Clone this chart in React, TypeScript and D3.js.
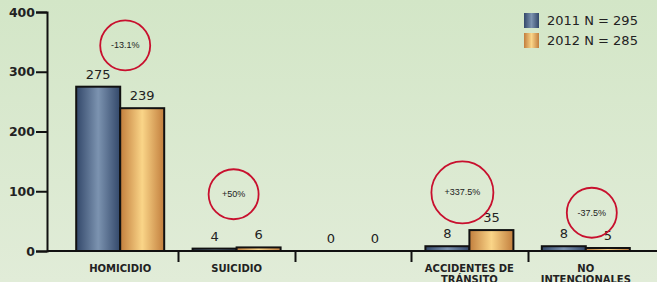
import React, { useEffect, useRef } from 'react';
import * as d3 from 'd3';

const categories = ['HOMICIDIO', 'SUICIDIO', '', 'ACCIDENTES DE|TRÁNSITO', 'NO|INTENCIONALES'];
const values2011 = [275, 4, 0, 8, 8];
const values2012 = [239, 6, 0, 35, 5];
const seriesLabels = ['2011 N = 295', '2012 N = 285'];
const yTicks = [0, 100, 200, 300, 400];
// where each change bubble sits, in value units (null = no bubble)
const bubbleValues = [344, 95, null, 98, 64];
const bubbleShift = [5, -3, 0, -7, 6];
const bubbleRadius = [25, 25, 0, 31, 25];

const App = () => {
  const ref = useRef<SVGSVGElement>(null);

  useEffect(() => {
    const W = 657, H = 282;
    const svg = d3.select(ref.current);
    svg.selectAll('*').remove();
    svg.attr('width', W).attr('height', H);

    const defs = svg.append('defs');
    const bg = defs.append('linearGradient').attr('id', 'bg').attr('x1', 0).attr('y1', 0).attr('x2', 0).attr('y2', 1);
    bg.append('stop').attr('offset', '0%').attr('stop-color', '#d3e6c7');
    bg.append('stop').attr('offset', '100%').attr('stop-color', '#e1ecd8');

    const mkGrad = (id: string, edge: string, mid: string) => {
      const g = defs.append('linearGradient').attr('id', id).attr('x1', 0).attr('x2', 1).attr('y1', 0).attr('y2', 0);
      g.append('stop').attr('offset', '0%').attr('stop-color', edge);
      g.append('stop').attr('offset', '50%').attr('stop-color', mid);
      g.append('stop').attr('offset', '100%').attr('stop-color', edge);
    };
    mkGrad('blue', '#33486a', '#7c93b0');
    mkGrad('orange', '#c27e3d', '#fad588');

    svg.append('rect').attr('width', W).attr('height', H).attr('fill', 'url(#bg)');

    const font = 'DejaVu Sans, Verdana, sans-serif';
    const y = d3.scaleLinear().domain([0, 400]).range([251, 12]);
    const x = d3.scaleBand().domain(categories.map((_, i) => String(i))).range([62, 644]);
    const bw = 44;

    // y axis
    const yAxis = svg.append('g').attr('transform', 'translate(47,0)')
      .call(d3.axisLeft(y).tickValues(yTicks).tickSize(11).tickPadding(1).tickFormat(d3.format('d')));
    yAxis.select('.domain').attr('stroke', '#111').attr('stroke-width', 2);
    yAxis.selectAll('.tick line').attr('stroke', '#111').attr('stroke-width', 2);
    yAxis.selectAll('.tick text').attr('fill', '#222').attr('font-family', font)
      .attr('font-weight', 'bold').attr('font-size', 12.5);

    // x axis line + separators
    svg.append('line').attr('x1', 47).attr('x2', W).attr('y1', y(0)).attr('y2', y(0))
      .attr('stroke', '#111').attr('stroke-width', 2);
    categories.forEach((_, i) => {
      if (i === 0) return;
      const sx = Math.round(x(String(i))!) + 0.5;
      svg.append('line').attr('x1', sx).attr('x2', sx).attr('y1', y(0)).attr('y2', y(0) + 11)
        .attr('stroke', '#111').attr('stroke-width', 2);
    });

    const series = [
      { vals: values2011, fill: 'url(#blue)', off: -bw },
      { vals: values2012, fill: 'url(#orange)', off: 0 },
    ];
    series.forEach(s => {
      s.vals.forEach((v, i) => {
        const cx = x(String(i))! + x.bandwidth() / 2;
        if (v > 0) {
          svg.append('rect').attr('x', cx + s.off).attr('y', y(v))
            .attr('width', bw).attr('height', y(0) - y(v))
            .attr('fill', s.fill).attr('stroke', '#111').attr('stroke-width', 2);
        }
        svg.append('text').attr('x', cx + s.off + bw / 2).attr('y', y(v) - 8)
          .attr('text-anchor', 'middle').attr('font-family', font).attr('font-size', 13)
          .attr('fill', '#222').text(v);
      });
    });

    // category labels
    categories.forEach((c, i) => {
      const cx = x(String(i))! + x.bandwidth() / 2;
      c.split('|').forEach((line, j) => {
        svg.append('text').attr('x', cx).attr('y', 272 + j * 11).attr('text-anchor', 'middle')
          .attr('font-family', font).attr('font-weight', 'bold').attr('font-size', 10)
          .attr('fill', '#222').text(line);
      });
    });

    // change bubbles
    bubbleValues.forEach((bv, i) => {
      if (bv === null) return;
      const cx = x(String(i))! + x.bandwidth() / 2 + bubbleShift[i];
      const cy = y(bv);
      const pct = (values2012[i] - values2011[i]) / values2011[i] * 100;
      const label = (pct > 0 ? '+' : '-') + String(Math.round(Math.abs(pct) * 10) / 10) + '%';
      svg.append('circle').attr('cx', cx).attr('cy', cy).attr('r', bubbleRadius[i])
        .attr('fill', 'none').attr('stroke', '#c8102e').attr('stroke-width', 1.8);
      svg.append('text').attr('x', cx).attr('y', cy + 3).attr('text-anchor', 'middle')
        .attr('font-family', 'Liberation Sans, Arial, sans-serif').attr('font-size', 9)
        .attr('fill', '#222').text(label);
    });

    // legend
    const fills = ['url(#blue)', 'url(#orange)'];
    seriesLabels.forEach((l, i) => {
      svg.append('rect').attr('x', 524).attr('y', 13 + i * 20).attr('width', 15).attr('height', 15)
        .attr('fill', fills[i]);
      svg.append('text').attr('x', 547).attr('y', 25 + i * 20).attr('font-family', font)
        .attr('font-size', 13).attr('fill', '#222').text(l);
    });
  }, []);

  return <svg ref={ref} style={{ position: 'absolute', left: 0, top: 0 }}></svg>;
};

export default App;
